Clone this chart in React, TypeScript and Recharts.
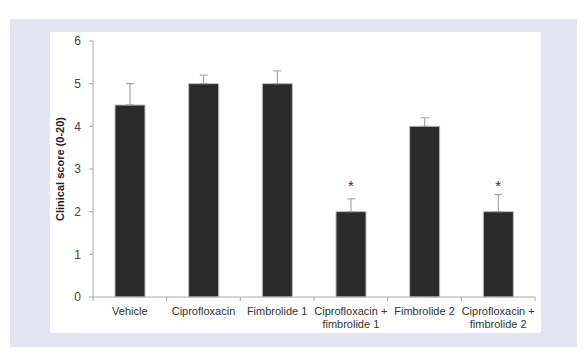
import { ComposedChart, Bar, Line, XAxis, YAxis, ErrorBar, Cell } from "recharts";

const groups = [
  ["Vehicle"],
  ["Ciprofloxacin"],
  ["Fimbrolide 1"],
  ["Ciprofloxacin +", "fimbrolide 1"],
  ["Fimbrolide 2"],
  ["Ciprofloxacin +", "fimbrolide 2"],
];
const scores = [4.5, 5, 5, 2, 4, 2];
const errors = [0.5, 0.2, 0.3, 0.3, 0.2, 0.4];
const stars = [null, null, null, 2.62, null, 2.62];
const yTicks = [0, 1, 2, 3, 4, 5, 6];

const data = groups.map((lines, i) => ({
  name: lines.join(" "),
  lines,
  score: scores[i],
  err: [0, errors[i]],
  star: stars[i],
}));

const font = "'Liberation Sans', Arial, sans-serif";

const GroupTick = (props: any) => {
  const { x, y, payload, index } = props;
  const half = payload.offset ?? 36.8;
  const lines = groups[index] ?? [payload.value];
  return (
    <g>
      <line x1={x - half} y1={y - 8} x2={x - half} y2={y - 4} stroke="#aaa" />
      {index === groups.length - 1 && (
        <line x1={x + half} y1={y - 8} x2={x + half} y2={y - 4} stroke="#aaa" />
      )}
      {lines.map((t: string, k: number) => (
        <text key={k} x={x} y={y + 10 + k * 13} textAnchor="middle" fontSize={11} fill="#333" fontFamily={font}>
          {t}
        </text>
      ))}
    </g>
  );
};

const Star = (props: any) => {
  const { cx, cy, value } = props;
  if (value == null || cy == null) return null;
  return (
    <text x={cx} y={cy + 6} textAnchor="middle" fontSize={15} fill="#333" fontFamily={font}>
      *
    </text>
  );
};

const App = () => {
  return (
    <div style={{ position: "relative", width: 586, height: 362, margin: -8 }}>
      <div style={{ position: "absolute", left: 10, top: 19, width: 567, height: 328, background: "#e5e5f1" }} />
      <div style={{ position: "absolute", left: 50, top: 32, width: 491, height: 301, background: "#fff" }}>
        <ComposedChart width={491} height={301} data={data} margin={{ top: 9, right: 6, bottom: 0, left: 0 }}>
          <XAxis
            dataKey="name"
            height={36}
            axisLine={{ stroke: "#aaa" }}
            tickLine={false}
            interval={0}
            tick={<GroupTick />}
          />
          <YAxis
            width={43}
            domain={[0, 6]}
            ticks={yTicks}
            axisLine={{ stroke: "#aaa" }}
            tickLine={{ stroke: "#aaa" }}
            tickSize={4}
            tick={{ fontSize: 12, fill: "#444", fontFamily: font, dx: -6 }}
            label={{
              value: "Clinical score (0-20)",
              angle: -90,
              position: "insideLeft",
              offset: 10,
              style: { textAnchor: "middle", fontSize: 11, fontWeight: "bold", fill: "#222", fontFamily: font },
            }}
          />
          <Bar dataKey="score" barSize={30} fill="#2a2a2a" stroke="#bbb" strokeWidth={1} isAnimationActive={false}>
            {data.map((d) => (
              <Cell key={d.name} fill="#2a2a2a" />
            ))}
            <ErrorBar dataKey="err" direction="y" width={4} stroke="#999" strokeWidth={1} />
          </Bar>
          <Line dataKey="star" stroke="none" dot={<Star />} activeDot={false} isAnimationActive={false} />
        </ComposedChart>
      </div>
    </div>
  );
};

export default App;
